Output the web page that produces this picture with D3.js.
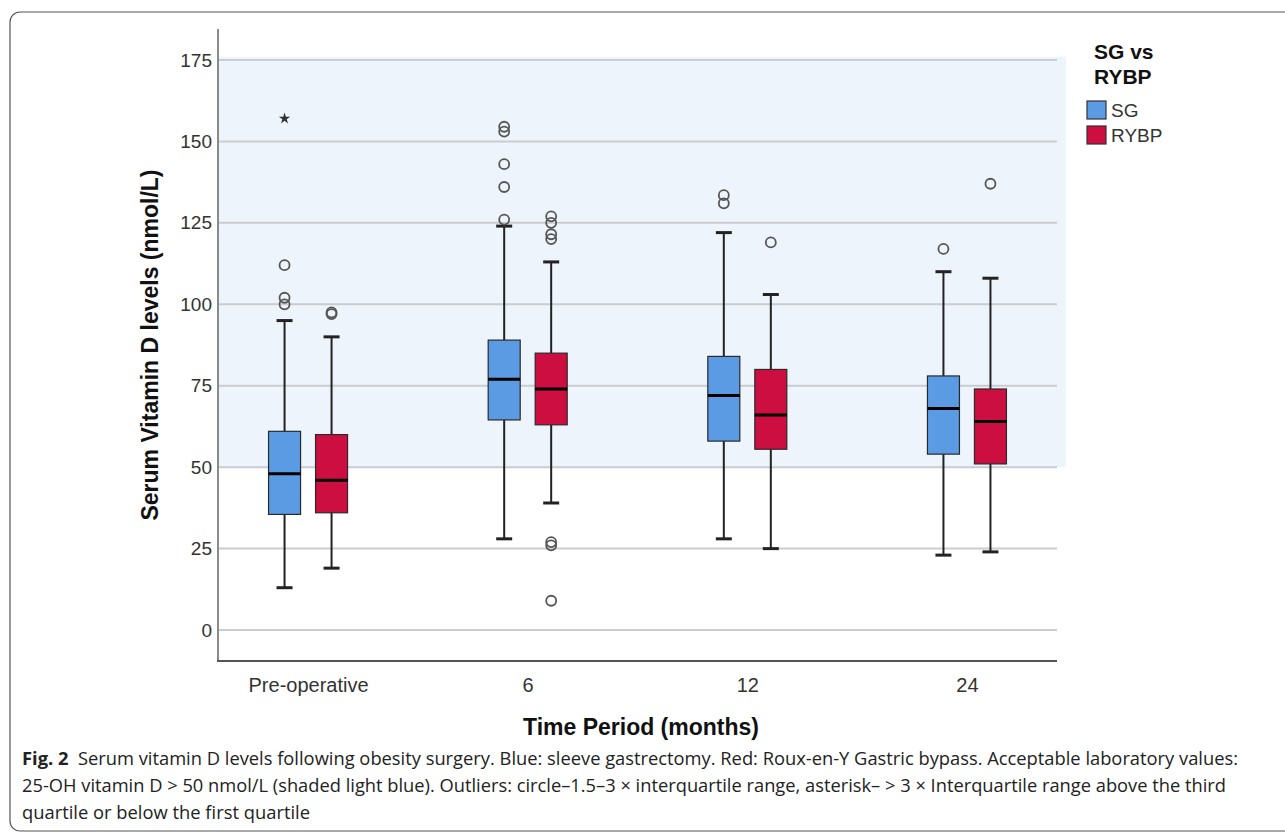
<!DOCTYPE html>
<html>
<head>
<meta charset="utf-8">
<script src="https://cdn.jsdelivr.net/npm/d3@7"></script>
<style>
  body { margin: 0; background: #fff; }
  svg { display: block; }
</style>
</head>
<body>
<svg id="chart" width="1285" height="833"></svg>
<script>
// categories
const periods = ['Pre-operative', '6', '12', '24'];
const groups = ['SG', 'RYBP'];
const yTicks = [0, 25, 50, 75, 100, 125, 150, 175];

// SG (sleeve gastrectomy) box stats
const sgLow = [13, 28, 28, 23];
const sgQ1 = [35.5, 64.5, 58, 54];
const sgMedian = [48, 77, 72, 68];
const sgQ3 = [61, 89, 84, 78];
const sgHigh = [95, 124, 122, 110];
const sgOutliers = [[112, 102, 100], [126, 136, 143, 153, 154.5], [131, 133.5], [117]];
const sgExtremes = [[157], [], [], []];

// RYBP (Roux-en-Y) box stats
const rybpLow = [19, 39, 25, 24];
const rybpQ1 = [36, 63, 55.5, 51];
const rybpMedian = [46, 74, 66, 64];
const rybpQ3 = [60, 85, 80, 74];
const rybpHigh = [90, 113, 103, 108];
const rybpOutliers = [[97, 97.5], [120, 121.5, 125, 127, 26, 27, 9], [119], [137]];
const rybpExtremes = [[], [], [], []];

// acceptable range (shaded)
const shadeRange = [50, 176];

const colours = { SG: '#5a9be3', RYBP: '#cc0e40' };

const svg = d3.select('#chart');
const axisFont = 'Liberation Sans, Arial, sans-serif';

// build box table from the arrays
const series = {
  SG: { low: sgLow, q1: sgQ1, med: sgMedian, q3: sgQ3, high: sgHigh, out: sgOutliers, ext: sgExtremes },
  RYBP: { low: rybpLow, q1: rybpQ1, med: rybpMedian, q3: rybpQ3, high: rybpHigh, out: rybpOutliers, ext: rybpExtremes }
};
const boxes = [];
periods.forEach((p, i) => {
  groups.forEach(g => {
    const s = series[g];
    boxes.push({ period: p, group: g, low: s.low[i], q1: s.q1[i], med: s.med[i], q3: s.q3[i],
      high: s.high[i], out: s.out[i], ext: s.ext[i] });
  });
});

// outer frame
svg.append('rect')
  .attr('x', 10).attr('y', 12)
  .attr('width', 1300).attr('height', 819)
  .attr('rx', 10)
  .attr('fill', 'none')
  .attr('stroke', '#555')
  .attr('stroke-width', 1.2);

// scales
const plotLeft = 218, plotRight = 1057, plotTop = 29, plotBottom = 661;
const x = d3.scalePoint().domain(periods).range([plotLeft, plotRight]).padding(0.41);
const xSub = d3.scalePoint().domain(groups).range([-23.5, 23.5]);
const y = d3.scaleLinear().domain([-9.5, 184.5]).range([plotBottom, plotTop]);
const boxW = 32, capW = 16;

// shaded acceptable band
svg.append('rect')
  .attr('x', plotLeft)
  .attr('y', y(shadeRange[1]))
  .attr('width', plotRight + 9 - plotLeft)
  .attr('height', y(shadeRange[0]) - y(shadeRange[1]))
  .attr('fill', '#eef4fb');

// gridlines
svg.append('g').selectAll('line')
  .data(yTicks)
  .join('line')
  .attr('x1', plotLeft).attr('x2', plotRight)
  .attr('y1', d => y(d)).attr('y2', d => y(d))
  .attr('stroke', '#c9cdd2')
  .attr('stroke-width', 2);

// y axis
const yAxis = svg.append('g')
  .attr('transform', `translate(${plotLeft},0)`)
  .call(d3.axisLeft(y).tickValues(yTicks).tickSize(0).tickPadding(6));
yAxis.select('.domain').remove();
yAxis.selectAll('text')
  .attr('font-family', axisFont)
  .attr('font-size', 19)
  .attr('fill', '#333');

svg.append('line')
  .attr('x1', plotLeft).attr('x2', plotLeft)
  .attr('y1', plotTop).attr('y2', plotBottom)
  .attr('stroke', '#8a8a8a').attr('stroke-width', 2);

// x axis
svg.append('line')
  .attr('x1', plotLeft - 1).attr('x2', plotRight)
  .attr('y1', plotBottom).attr('y2', plotBottom)
  .attr('stroke', '#555').attr('stroke-width', 2);

const xAxis = svg.append('g')
  .attr('transform', `translate(0,${plotBottom})`)
  .call(d3.axisBottom(x).tickSize(0));
xAxis.select('.domain').remove();
xAxis.selectAll('text')
  .attr('y', 31)
  .attr('dy', 0)
  .attr('font-family', axisFont)
  .attr('font-size', 20)
  .attr('fill', '#333');

// axis titles
svg.append('text')
  .attr('transform', `translate(158,345) rotate(-90)`)
  .attr('text-anchor', 'middle')
  .attr('font-family', axisFont)
  .attr('font-weight', 'bold')
  .attr('font-size', 23)
  .attr('fill', '#111')
  .text('Serum Vitamin D levels (nmol/L)');

svg.append('text')
  .attr('x', 641).attr('y', 735)
  .attr('text-anchor', 'middle')
  .attr('font-family', axisFont)
  .attr('font-weight', 'bold')
  .attr('font-size', 23)
  .attr('fill', '#111')
  .text('Time Period (months)');

// boxes
const cx = d => x(d.period) + xSub(d.group);
const boxG = svg.append('g').selectAll('g')
  .data(boxes)
  .join('g');

// whiskers
boxG.append('line')
  .attr('x1', cx).attr('x2', cx)
  .attr('y1', d => y(d.high)).attr('y2', d => y(d.q3))
  .attr('stroke', '#222').attr('stroke-width', 2);
boxG.append('line')
  .attr('x1', cx).attr('x2', cx)
  .attr('y1', d => y(d.q1)).attr('y2', d => y(d.low))
  .attr('stroke', '#222').attr('stroke-width', 2);
// caps
['high', 'low'].forEach(k => {
  boxG.append('line')
    .attr('x1', d => cx(d) - capW / 2).attr('x2', d => cx(d) + capW / 2)
    .attr('y1', d => y(d[k])).attr('y2', d => y(d[k]))
    .attr('stroke', '#222').attr('stroke-width', 3);
});
// box
boxG.append('rect')
  .attr('x', d => cx(d) - boxW / 2)
  .attr('y', d => y(d.q3))
  .attr('width', boxW)
  .attr('height', d => y(d.q1) - y(d.q3))
  .attr('fill', d => colours[d.group])
  .attr('stroke', '#2a2a2a')
  .attr('stroke-width', 1.2);
// median
boxG.append('line')
  .attr('x1', d => cx(d) - boxW / 2).attr('x2', d => cx(d) + boxW / 2)
  .attr('y1', d => y(d.med)).attr('y2', d => y(d.med))
  .attr('stroke', '#000').attr('stroke-width', 3);

// outlier circles
boxG.selectAll('circle')
  .data(d => d.out.map(v => ({ v, d })))
  .join('circle')
  .attr('cx', o => cx(o.d))
  .attr('cy', o => y(o.v))
  .attr('r', 5)
  .attr('fill', 'none')
  .attr('stroke', '#555')
  .attr('stroke-width', 1.8);

// extreme outliers (asterisk)
boxG.selectAll('path.extreme')
  .data(d => d.ext.map(v => ({ v, d })))
  .join('path')
  .attr('class', 'extreme')
  .attr('transform', o => `translate(${cx(o.d)},${y(o.v)})`)
  .attr('d', d3.symbol(d3.symbolStar).size(40))
  .attr('fill', '#333');

// legend
const legend = svg.append('g').attr('transform', 'translate(1087,0)');
legend.append('text')
  .attr('x', 7).attr('y', 59)
  .attr('font-family', axisFont).attr('font-weight', 'bold')
  .attr('font-size', 21).attr('fill', '#111')
  .text('SG vs');
legend.append('text')
  .attr('x', 7).attr('y', 84)
  .attr('font-family', axisFont).attr('font-weight', 'bold')
  .attr('font-size', 21).attr('fill', '#111')
  .text('RYBP');
const legItem = legend.selectAll('g.item')
  .data(groups)
  .join('g')
  .attr('class', 'item')
  .attr('transform', (d, i) => `translate(0,${101 + i * 25})`);
legItem.append('rect')
  .attr('width', 19).attr('height', 18)
  .attr('fill', d => colours[d])
  .attr('stroke', '#333').attr('stroke-width', 1.2);
legItem.append('text')
  .attr('x', 24).attr('y', 16)
  .attr('font-family', axisFont).attr('font-size', 19)
  .attr('fill', '#333')
  .text(d => d);

// caption
const capFont = 'Open Sans, Noto Sans, sans-serif';
const cap1 = svg.append('text')
  .attr('x', 22).attr('y', 765)
  .attr('font-family', capFont).attr('font-size', 18).attr('fill', '#222')
  .attr('textLength', 1216).attr('lengthAdjust', 'spacingAndGlyphs');
cap1.append('tspan').attr('font-weight', 'bold').text('Fig. 2');
cap1.append('tspan').text('\u00a0 Serum vitamin D levels following obesity surgery. Blue: sleeve gastrectomy. Red: Roux-en-Y Gastric bypass. Acceptable laboratory values:');

svg.append('text')
  .attr('x', 22).attr('y', 792)
  .attr('font-family', capFont).attr('font-size', 18).attr('fill', '#222')
  .attr('textLength', 1204).attr('lengthAdjust', 'spacingAndGlyphs')
  .text('25-OH vitamin D > 50 nmol/L (shaded light blue). Outliers: circle\u20131.5\u20133 \u00d7 interquartile range, asterisk\u2013 > 3 \u00d7 Interquartile range above the third');

svg.append('text')
  .attr('x', 22).attr('y', 819)
  .attr('font-family', capFont).attr('font-size', 18).attr('fill', '#222')
  .attr('textLength', 288).attr('lengthAdjust', 'spacingAndGlyphs')
  .text('quartile or below the first quartile');
</script>
</body>
</html>
